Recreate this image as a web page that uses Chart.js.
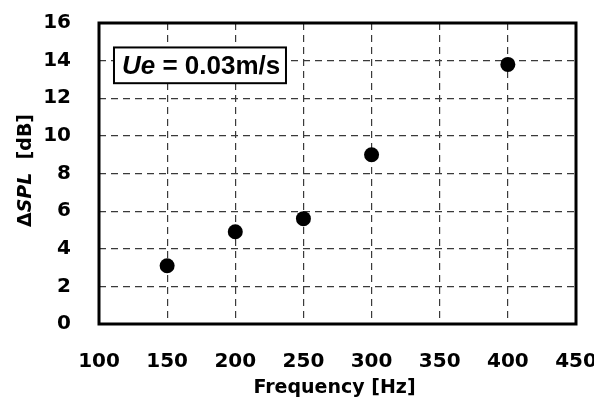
<!DOCTYPE html>
<html>
<head>
<meta charset="utf-8">
<script src="https://cdn.jsdelivr.net/npm/chart.js@4/dist/chart.umd.min.js"></script>
<style>
  html, body { margin: 0; padding: 0; background: #fff; }
  #wrap { width: 594px; height: 401px; position: relative; }
</style>
</head>
<body>
<div id="wrap"><canvas id="c" width="594" height="401"></canvas></div>
<script>
// ---- data ----
const frequencies = [150, 200, 250, 300, 400];          // Hz
const deltaSPL    = [3.1, 4.9, 5.6, 9.0, 13.8];         // dB
const xTickValues = [100, 150, 200, 250, 300, 350, 400, 450];
const yTickValues = [0, 2, 4, 6, 8, 10, 12, 14, 16];
const xTitle = 'Frequency [Hz]';
const yTitleParts = [['\u0394', false], ['SPL', true], ['  [dB]', false]];
const noteParts = [['Ue', true], [' = 0.03m/s', false]];
// annotation box corners in data units
const noteBoxX = [111, 237.2];
const noteBoxY = [12.8, 14.7];

const TICK_FONT = 'DejaVu Sans';
const points = frequencies.map((f, i) => ({ x: f, y: deltaSPL[i] }));

function drawParts(ctx, parts, family, size, x, y, align) {
  let total = 0;
  const widths = parts.map(([t, it]) => {
    ctx.font = (it ? 'italic ' : '') + 'bold ' + size + 'px "' + family + '"';
    const w = ctx.measureText(t).width; total += w; return w;
  });
  let cx = align === 'center' ? x - total / 2 : x;
  parts.forEach(([t, it], i) => {
    ctx.font = (it ? 'italic ' : '') + 'bold ' + size + 'px "' + family + '"';
    ctx.fillText(t, cx, y);
    cx += widths[i];
  });
}

const decor = {
  id: 'decor',
  afterDraw(chart) {
    const { ctx, chartArea: a, scales } = chart;
    ctx.save();
    // frame
    ctx.strokeStyle = '#000';
    ctx.lineWidth = 3;
    ctx.strokeRect(a.left, a.top, a.right - a.left, a.bottom - a.top);
    // annotation box
    const bx0 = scales.x.getPixelForValue(noteBoxX[0]);
    const bx1 = scales.x.getPixelForValue(noteBoxX[1]);
    const by0 = scales.y.getPixelForValue(noteBoxY[1]);
    const by1 = scales.y.getPixelForValue(noteBoxY[0]);
    ctx.fillStyle = '#fff';
    ctx.fillRect(bx0, by0, bx1 - bx0, by1 - by0);
    ctx.lineWidth = 2;
    ctx.strokeRect(bx0, by0, bx1 - bx0, by1 - by0);
    ctx.fillStyle = '#000';
    ctx.textBaseline = 'alphabetic';
    ctx.textAlign = 'left';
    drawParts(ctx, noteParts, 'Liberation Sans', 26, bx0 + 8, by1 - 9, 'left');
    // x title
    drawParts(ctx, [[xTitle, false]], TICK_FONT, 19, (a.left + a.right) / 2 - 3, 393, 'center');
    // y title
    ctx.translate(31, (a.top + a.bottom) / 2 - 3);
    ctx.rotate(-Math.PI / 2);
    drawParts(ctx, yTitleParts, TICK_FONT, 19, 0, 0, 'center');
    ctx.restore();
  }
};

new Chart(document.getElementById('c'), {
  type: 'scatter',
  data: {
    datasets: [{
      data: points,
      backgroundColor: '#000',
      borderColor: '#000',
      pointRadius: 7.5,
      pointHoverRadius: 7.5,
      borderWidth: 0,
      showLine: false
    }]
  },
  options: {
    responsive: false,
    animation: false,
    events: [],
    layout: { padding: { top: 23, right: 18, left: 0, bottom: 0 } },
    plugins: { legend: { display: false }, tooltip: { enabled: false } },
    scales: {
      x: {
        type: 'linear',
        min: xTickValues[0],
        max: xTickValues[xTickValues.length - 1],
        afterBuildTicks: s => { s.ticks = xTickValues.map(v => ({ value: v })); },
        afterFit: s => { s.height = 77; s.paddingLeft = 0; s.paddingRight = 0; },
        grid: { color: '#3a3a3a', lineWidth: 1.2, drawTicks: false },
        border: { display: false, dash: [7, 5] },
        ticks: { color: '#000', padding: 26, font: { family: TICK_FONT, weight: 'bold', size: 20 } },
        title: { display: false }
      },
      y: {
        type: 'linear',
        min: yTickValues[0],
        max: yTickValues[yTickValues.length - 1],
        afterBuildTicks: s => { s.ticks = yTickValues.map(v => ({ value: v })); },
        afterFit: s => { s.width = 99; s.paddingTop = 0; s.paddingBottom = 0; },
        grid: { color: '#3a3a3a', lineWidth: 1.2, drawTicks: false },
        border: { display: false, dash: [7, 5] },
        ticks: { color: '#000', padding: 28, font: { family: TICK_FONT, weight: 'bold', size: 20 } },
        title: { display: false }
      }
    }
  },
  plugins: [decor]
});
</script>
</body>
</html>
